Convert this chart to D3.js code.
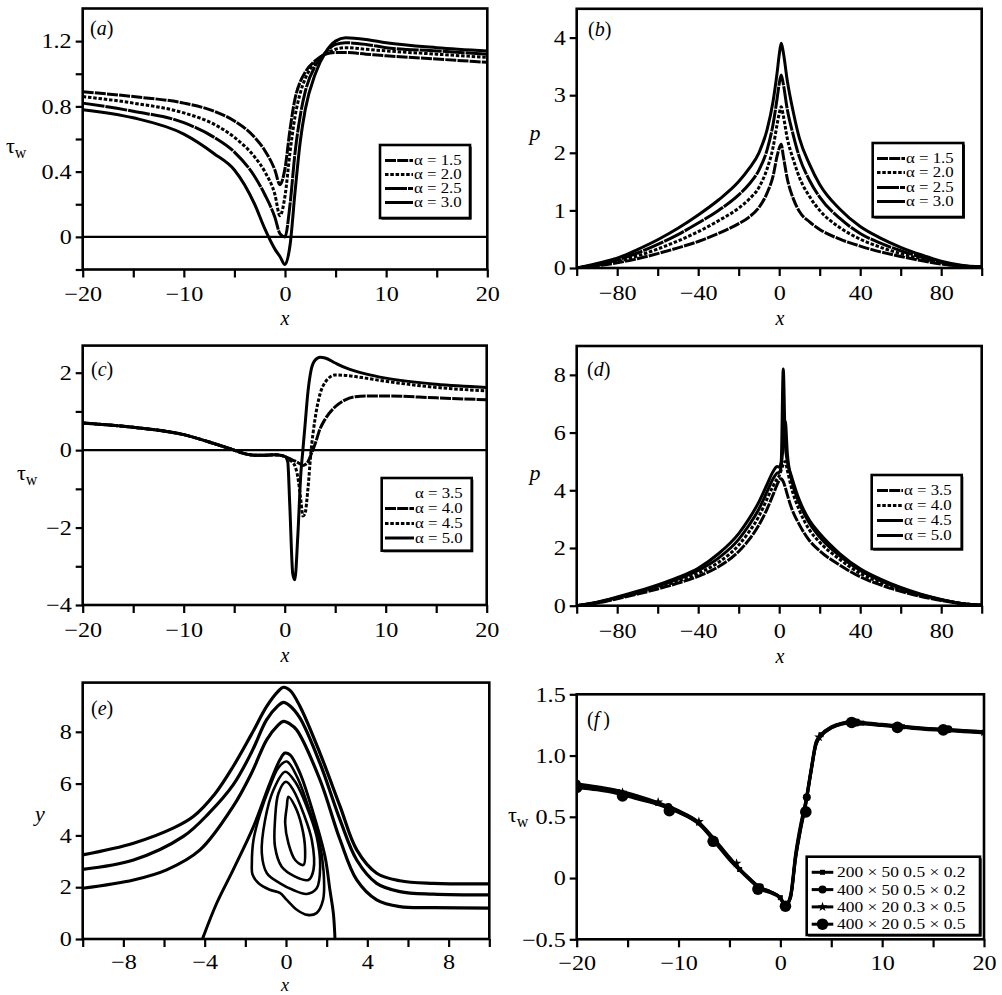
<!DOCTYPE html>
<html><head><meta charset="utf-8">
<script src="https://cdn.jsdelivr.net/npm/d3@7"></script>
<style>
body{margin:0;background:#fff}
text{font-family:"Liberation Serif","Times New Roman",serif;fill:#000}
</style>
</head><body><svg id="c" width="1002" height="995"></svg>
<script>
// ---------- DATA ----------
// (a) wall shear stress, alpha = 1.5..3.0
const aX = [-20,-15,-10,-7,-5,-3,-2,-1,-0.5,0,0.5,1,1.5,2,3,4,5,6,8,10,15,20];
const aTau15 = [0.89,0.86,0.82,0.77,0.71,0.61,0.53,0.41,0.32,0.42,0.66,0.85,0.95,1.01,1.08,1.12,1.13,1.13,1.12,1.11,1.09,1.07];
const aTau20 = [0.86,0.82,0.76,0.69,0.61,0.49,0.40,0.26,0.13,0.25,0.52,0.74,0.88,0.97,1.07,1.12,1.15,1.16,1.15,1.14,1.12,1.10];
const aTau25 = [0.82,0.77,0.70,0.61,0.52,0.37,0.26,0.12,0.02,0.0,0.2,0.52,0.74,0.89,1.05,1.13,1.18,1.19,1.18,1.16,1.14,1.12];
const aTau30 = [0.78,0.73,0.63,0.51,0.41,0.2,0.05,-0.075,-0.12,-0.17,-0.05,0.28,0.58,0.78,1.0,1.13,1.20,1.22,1.21,1.19,1.16,1.14];
const aLabels = ["\u03b1 = 1.5","\u03b1 = 2.0","\u03b1 = 2.5","\u03b1 = 3.0"];

// (b) pressure, alpha = 1.5..3.0
const bX = [-100,-90,-80,-70,-60,-50,-40,-30,-20,-15,-10,-6,-3,-1,0,1,2,4,7,10,15,20,30,40,50,60,70,80,90,100];
const bP15 = [0,0.04,0.09,0.16,0.25,0.35,0.46,0.6,0.77,0.88,1.05,1.3,1.6,1.95,2.08,2.15,1.95,1.55,1.2,0.98,0.8,0.67,0.5,0.38,0.28,0.2,0.13,0.07,0.03,0.02];
const bP20 = [0,0.05,0.11,0.21,0.33,0.47,0.63,0.82,1.04,1.19,1.4,1.72,2.1,2.5,2.68,2.8,2.65,2.25,1.88,1.57,1.24,1.0,0.7,0.5,0.36,0.25,0.16,0.08,0.03,0.02];
const bP25 = [0,0.06,0.14,0.26,0.41,0.58,0.78,1.0,1.27,1.45,1.7,2.05,2.5,2.95,3.2,3.35,3.2,2.75,2.3,1.92,1.52,1.23,0.86,0.6,0.43,0.3,0.19,0.1,0.04,0.02];
const bP30 = [0,0.08,0.17,0.32,0.49,0.69,0.92,1.18,1.50,1.72,2.0,2.4,2.9,3.4,3.7,3.9,3.75,3.25,2.7,2.25,1.8,1.45,1.02,0.72,0.52,0.36,0.23,0.12,0.05,0.02];

// (c) wall shear stress, alpha = 3.5..5.0
const cX = [-20,-15,-10,-7,-5,-4,-3,-2,-1,0,0.3,0.5,0.8,1.0,1.3,1.6,1.8,2.0,2.3,2.6,3.0,3.5,4,5,6,7,8,10,15,20];
const cTau40 = [0.70,0.59,0.40,0.17,0.0,-0.09,-0.13,-0.13,-0.12,-0.16,-0.2,-0.22,-0.26,-0.28,-0.32,-0.37,-0.4,-0.38,-0.3,-0.12,0.15,0.55,0.8,1.12,1.3,1.38,1.4,1.4,1.35,1.3];
const cTau45 = [0.70,0.59,0.40,0.17,0.0,-0.09,-0.13,-0.13,-0.12,-0.16,-0.2,-0.25,-0.32,-0.4,-0.7,-1.3,-1.7,-1.65,-1.0,-0.05,0.8,1.45,1.75,1.94,1.93,1.9,1.86,1.78,1.62,1.53];
const cTau50 = [0.70,0.59,0.40,0.17,0.0,-0.09,-0.13,-0.13,-0.12,-0.16,-0.3,-1.4,-3.2,-3.35,-2.2,-0.6,0.0,0.6,1.5,2.05,2.32,2.4,2.38,2.25,2.13,2.04,1.97,1.86,1.7,1.62];
const cdLabels = ["\u03b1 = 3.5","\u03b1 = 4.0","\u03b1 = 4.5","\u03b1 = 5.0"];

// (d) pressure, alpha = 3.5..5.0
const dX = [-100,-90,-80,-70,-60,-50,-40,-30,-20,-15,-10,-6,-3,-1,0,1,2,3,4,6,10,15,20,30,40,50,60,70,80,90,100];
const dP35 = [0,0.09,0.24,0.4,0.58,0.78,1.02,1.35,1.88,2.28,2.8,3.35,3.85,4.2,4.35,4.4,4.3,4.1,3.85,3.4,2.8,2.25,1.9,1.4,1.0,0.72,0.5,0.32,0.18,0.07,0.02];
const dP40 = [0,0.1,0.26,0.44,0.63,0.85,1.12,1.5,2.1,2.55,3.1,3.7,4.15,4.4,4.5,4.7,4.9,5.0,4.7,4.1,3.3,2.62,2.2,1.6,1.12,0.8,0.55,0.35,0.2,0.08,0.02];
const dP45 = [0,0.11,0.28,0.47,0.68,0.92,1.22,1.65,2.3,2.78,3.35,3.95,4.4,4.6,4.62,4.85,5.6,6.4,5.3,4.4,3.55,2.85,2.38,1.72,1.22,0.87,0.6,0.38,0.21,0.08,0.02];
const dP50 = [0,0.12,0.3,0.5,0.72,0.98,1.3,1.8,2.5,3.0,3.6,4.2,4.65,4.82,4.8,5.0,8.2,5.6,5.0,4.5,3.65,2.95,2.5,1.8,1.28,0.92,0.63,0.4,0.22,0.08,0.02];

// (e) streamlines [x, y]
const eStream1 = [[-10,3.25],[-7.5,3.7],[-5.5,4.3],[-4.56,4.73],[-3.5,5.6],[-2.6,6.66],[-1.7,7.9],[-0.95,8.98],[-0.4,9.55],[-0.13,9.72],[0.2,9.6],[0.69,8.98],[1.67,7.18],[2.66,5.12],[3.48,3.44],[4.46,2.54],[5.6,2.25],[7.25,2.15],[10,2.13]];
const eStream2 = [[-10,2.69],[-7.5,3.05],[-5.05,3.96],[-3.8,4.85],[-2.6,5.95],[-1.7,7.2],[-0.95,8.47],[-0.4,9.0],[-0.13,9.14],[0.2,9.0],[0.69,8.53],[1.67,6.79],[2.66,4.6],[3.48,3.05],[4.46,2.15],[5.6,1.83],[7.25,1.73],[10,1.7]];
const eStream3 = [[-10,1.96],[-7.5,2.28],[-5.87,2.67],[-4.23,3.44],[-2.6,5.12],[-1.7,6.4],[-0.95,7.69],[-0.4,8.25],[-0.13,8.4],[0.2,8.3],[0.52,8.08],[1.67,6.15],[2.66,3.83],[3.48,2.28],[4.46,1.51],[5.6,1.25],[7.25,1.21],[10,1.19]];
const eSeparatrix = [[-4.11,0],[-3.41,1.38],[-2.6,2.67],[-1.6,4.34],[-0.79,6.02],[-0.3,6.92],[-0.05,7.18],[0.2,7.11],[0.69,6.4],[1.34,4.86],[1.92,3.18],[2.16,1.89],[2.33,0.99],[2.41,0]];
const eLoopA = [[0.04,6.85],[0.55,6.25],[1.1,5.1],[1.6,3.9],[1.85,2.6],[1.82,1.5],[1.5,1.0],[1.05,0.93],[0.55,1.12],[0.05,1.5],[-0.3,1.78],[-0.8,1.9],[-1.35,2.15],[-1.65,2.5],[-1.68,2.9],[-1.6,3.82],[-1.27,4.85],[-0.8,5.88],[-0.37,6.62]];
const eLoopB = [[-0.04,6.46],[0.45,6.07],[1.02,5.11],[1.51,3.95],[1.68,2.79],[1.51,1.96],[1.02,1.74],[0.36,1.89],[-0.29,2.15],[-0.94,2.54],[-1.19,3.31],[-1.03,4.59],[-0.62,5.75]];
const eLoopC = [[0.0,6.07],[0.36,5.75],[0.86,4.85],[1.27,3.82],[1.35,2.66],[1.1,2.28],[0.45,2.41],[-0.21,2.79],[-0.54,3.56],[-0.54,4.59],[-0.37,5.63]];
const eLoopD = [[0.12,5.49],[0.45,5.11],[0.78,4.34],[0.94,3.44],[0.86,2.86],[0.45,3.05],[0.12,3.69],[-0.04,4.47],[0.04,5.11]];

// (f) grid study
const fX = [-20,-18,-16,-14,-12,-10,-8,-6,-5,-4,-3,-2,-1,0,0.5,1,1.5,2,2.5,3,3.5,4,5,6,7,8,10,12,14,16,18,20];
const fTau1 = [0.76,0.735,0.705,0.66,0.61,0.545,0.45,0.26,0.16,0.07,-0.01,-0.08,-0.11,-0.16,-0.22,-0.15,0.18,0.42,0.62,0.87,1.10,1.17,1.23,1.26,1.27,1.265,1.25,1.235,1.22,1.21,1.20,1.19];
const fTau2 = [0.77,0.745,0.715,0.67,0.615,0.55,0.455,0.27,0.17,0.075,-0.005,-0.075,-0.11,-0.165,-0.225,-0.14,0.2,0.44,0.63,0.88,1.11,1.17,1.235,1.265,1.275,1.27,1.255,1.24,1.225,1.215,1.205,1.195];
const fTau3 = [0.755,0.73,0.70,0.655,0.605,0.54,0.445,0.255,0.155,0.07,-0.01,-0.085,-0.115,-0.16,-0.22,-0.16,0.17,0.41,0.61,0.86,1.09,1.16,1.225,1.255,1.265,1.26,1.245,1.23,1.215,1.205,1.195,1.185];
const fTau4 = [0.74,0.72,0.69,0.645,0.60,0.535,0.44,0.25,0.15,0.065,-0.015,-0.09,-0.12,-0.165,-0.23,-0.16,0.16,0.40,0.60,0.86,1.09,1.16,1.225,1.26,1.27,1.265,1.25,1.235,1.22,1.21,1.20,1.19];
const fMark1 = [[-20,0.76],[-16,0.705],[-12,0.61],[-8,0.45],[-4,0.07],[0,-0.16],[4,1.17],[8,1.265],[12,1.235],[16,1.21],[20,1.19]];
const fMark2 = [[-20,0.77],[-11,0.58],[-2,-0.075],[2.6,0.66],[7.5,1.27],[16.5,1.215]];
const fMark3 = [[-15.5,0.7],[-12,0.62],[-8,0.46],[-4.3,0.12],[3.8,1.15],[20,1.19]];
const fMark4 = [[-20,0.74],[-15.5,0.67],[-10.9,0.55],[-6.6,0.30],[-2.2,-0.09],[0.5,-0.23],[2.5,0.54],[7,1.27],[11.5,1.23],[16,1.21]];
const fLabels = ["200 \u00d7 50 0.5 \u00d7 0.2","400 \u00d7 50 0.5 \u00d7 0.2","400 \u00d7 20 0.3 \u00d7 0.5","400 \u00d7 20 0.5 \u00d7 0.5"];

// ---------- DRAWING ----------
const svg = d3.select("#c");
const defs = svg.append("defs");
const STYLES = {
  ldash:{dash:"11,1.2",w:3}, dot:{dash:"3.5,1.8",w:3}, mdash:{dash:"22,1",w:3}, solid:{dash:null,w:3}, none:{dash:null,w:0}
};
const fmtInt = d3.format("d");
const fmt1 = d => d === 0 ? "0" : d3.format(".1f")(d);
const TICKFS = 21, TICKK = 1.15;

function panel(o){
  const x = d3.scaleLinear().domain(o.xd).range([o.l,o.r]);
  const y = d3.scaleLinear().domain(o.yd).range([o.b,o.t]);
  const g = svg.append("g");
  const clip = "clip-"+o.id;
  defs.append("clipPath").attr("id",clip).append("rect")
    .attr("x",o.l).attr("y",o.t).attr("width",o.r-o.l).attr("height",o.b-o.t);
  const cg = g.append("g").attr("clip-path",`url(#${clip})`);
  const gx = g.append("g").attr("transform",`translate(0,${o.b})`)
    .call(d3.axisBottom(x).tickValues(o.xt).tickSize(8).tickPadding(o.xpad || 9).tickSizeOuter(0)
      .tickFormat(d => o.xl.includes(d) ? o.xf(d) : ""));
  const gy = g.append("g").attr("transform",`translate(${o.l},0)`)
    .call(d3.axisLeft(y).tickValues(o.yt).tickSize(7).tickPadding(4).tickSizeOuter(0)
      .tickFormat(d => o.yl.includes(d) ? o.yf(d) : ""));
  [gx,gy].forEach(a => {
    a.select(".domain").remove();
    a.attr("font-size",TICKFS).attr("font-family",null);
    a.selectAll(".tick line").attr("stroke","#000").attr("stroke-width",2.2);
    a.selectAll(".tick text").attr("class","st").attr("data-k",TICKK);
  });
  g.append("rect").attr("x",o.l).attr("y",o.t).attr("width",o.r-o.l).attr("height",o.b-o.t)
    .attr("fill","none").attr("stroke","#000").attr("stroke-width",2.6);
  if (o.zero) {
    cg.append("line").attr("x1",o.l).attr("x2",o.r).attr("y1",y(0)).attr("y2",y(0))
      .attr("stroke","#000").attr("stroke-width",2.2);
  }
  return {x,y,g,cg};
}

function series(p, xs, ys, st){
  const s = STYLES[st];
  const line = d3.line().x((d,i)=>p.x(xs[i])).y(d=>p.y(d)).curve(d3.curveMonotoneX);
  p.cg.append("path").datum(ys).attr("d",line).attr("fill","none").attr("stroke","#000")
    .attr("stroke-width",s.w).attr("stroke-dasharray",s.dash).attr("stroke-linejoin","round");
}

function stream(p, pts, closed, w){
  const line = d3.line().x(d=>p.x(d[0])).y(d=>p.y(d[1]))
    .curve(closed ? d3.curveCatmullRomClosed.alpha(0.5) : d3.curveCatmullRom.alpha(0.5));
  p.cg.append("path").datum(pts).attr("d",line).attr("fill","none").attr("stroke","#000")
    .attr("stroke-width",w).attr("stroke-linejoin","round");
}

function legend(box, sx1, sx2, tx, rows, fs, k, labels, styles, markers){
  const [x0,y0,x1,y1] = box;
  svg.append("rect").attr("x",x0+1.6).attr("y",y0+1.6).attr("width",x1-x0).attr("height",y1-y0)
    .attr("fill","#000");
  svg.append("rect").attr("x",x0).attr("y",y0).attr("width",x1-x0).attr("height",y1-y0)
    .attr("fill","#fff").attr("stroke","#000").attr("stroke-width",2.6);
  labels.forEach((lab,i)=>{
    const s = STYLES[styles[i]];
    if (s.w > 0) {
      svg.append("line").attr("x1",sx1).attr("x2",sx2).attr("y1",rows[i]).attr("y2",rows[i])
        .attr("stroke","#000").attr("stroke-width",s.w).attr("stroke-dasharray",s.dash);
    }
    if (markers) markers[i]((sx1+sx2)/2, rows[i], svg);
    svg.append("text").attr("class","st").attr("data-k",k).attr("x",tx).attr("y",rows[i])
      .attr("dy","0.33em").attr("font-size",fs).text(lab);
  });
}

function panelLabel(x, y, letter, extra){
  const t = svg.append("text").attr("x",x).attr("y",y).attr("font-size",20);
  t.append("tspan").text("(");
  t.append("tspan").attr("font-style","italic").text(letter);
  t.append("tspan").text(extra ? "\u2009)" : ")");
}
function tauLabel(x, y){
  const t = svg.append("text").attr("x",x).attr("y",y).attr("font-size",22);
  t.append("tspan").text("\u03c4");
  t.append("tspan").attr("dy",5).attr("font-size",16).text("w");
}
function italicLabel(x, y, s, fs){
  svg.append("text").attr("x",x).attr("y",y).attr("font-size",fs || 22).attr("font-style","italic")
    .attr("text-anchor","middle").text(s);
}

// ---- (a)
const pa = panel({id:"a", l:82.7, r:487.3, t:8.5, b:269.5, xd:[-20,20], yd:[-0.2,1.4],
  xt:d3.range(-20,21,5), xl:[-20,-10,0,10,20], xf:fmtInt,
  yt:[-0.2,0,0.2,0.4,0.6,0.8,1.0,1.2], yl:[0,0.4,0.8,1.2], yf:fmt1, zero:true});
series(pa, aX, aTau15, "ldash");
series(pa, aX, aTau20, "dot");
series(pa, aX, aTau25, "mdash");
series(pa, aX, aTau30, "solid");
legend([380,145,470,218], 385, 413, 414, [160.5,174.5,188.5,202.5], 14, 1.2, aLabels, ["ldash","dot","mdash","solid"]);
panelLabel(90, 35, "a");
tauLabel(6, 153);
italicLabel(285, 325, "x", 20);

// ---- (b)
const pb = panel({id:"b", l:576.7, r:981.7, t:8.8, b:268, xd:[-100,100], yd:[0,4.5],
  xt:d3.range(-100,101,20), xl:[-80,-40,0,40,80], xf:fmtInt,
  yt:[0,1,2,3,4], yl:[0,1,2,3,4], yf:fmtInt});
series(pb, bX, bP15, "ldash");
series(pb, bX, bP20, "dot");
series(pb, bX, bP25, "mdash");
series(pb, bX, bP30, "solid");
legend([872.7,143,963.3,217], 877, 905, 906, [158.5,172.5,187.5,201.5], 14, 1.2, aLabels, ["ldash","dot","mdash","solid"]);
panelLabel(588, 36, "b");
italicLabel(535, 140, "p");
italicLabel(780, 325, "x", 20);

// ---- (c)
const pc = panel({id:"c", l:82.7, r:486.7, t:345.6, b:605, xd:[-20,20], yd:[-4,2.7],
  xt:d3.range(-20,21,5), xl:[-20,-10,0,10,20], xf:fmtInt,
  yt:[-4,-3,-2,-1,0,1,2], yl:[-4,-2,0,2], yf:fmtInt, zero:true});
series(pc, cX, cTau40, "ldash");
series(pc, cX, cTau45, "dot");
series(pc, cX, cTau50, "solid");
legend([381.7,478,471.7,550.7], 385, 414, 415, [493,508.5,523.5,538], 14, 1.2, cdLabels, ["none","ldash","dot","solid"]);
panelLabel(91, 376, "c");
tauLabel(17, 480);
italicLabel(285, 662, "x", 20);

// ---- (d)
const pd = panel({id:"d", l:576.7, r:981.7, t:346, b:605.7, xd:[-100,100], yd:[0,9],
  xt:d3.range(-100,101,20), xl:[-80,-40,0,40,80], xf:fmtInt,
  yt:[0,2,4,6,8], yl:[0,2,4,6,8], yf:fmtInt});
series(pd, dX, dP35, "ldash");
series(pd, dX, dP40, "dot");
series(pd, dX, dP45, "solid");
series(pd, dX, dP50, "solid");
legend([871.7,475,961.7,549], 877, 903, 904, [490.5,505.5,520.5,535.5], 14, 1.2, cdLabels, ["ldash","dot","solid","solid"]);
panelLabel(587, 376, "d");
italicLabel(535, 480, "p");
italicLabel(780, 663, "x", 20);

// ---- (e)
const pe = panel({id:"e", l:82.7, r:489.3, t:682.6, b:939, xd:[-10,10], yd:[0,9.9],
  xt:d3.range(-10,11,2), xl:[-8,-4,0,4,8], xf:fmtInt, xpad:7,
  yt:[0,2,4,6,8], yl:[0,2,4,6,8], yf:fmtInt});
stream(pe, eStream1, false, 3.2);
stream(pe, eStream2, false, 3.2);
stream(pe, eStream3, false, 3.2);
stream(pe, eSeparatrix, false, 3);
stream(pe, eLoopA, true, 2.6);
stream(pe, eLoopB, true, 2.6);
stream(pe, eLoopC, true, 2.6);
stream(pe, eLoopD, true, 2.6);
panelLabel(91, 715, "e");
italicLabel(40, 821, "y");
italicLabel(285, 990.5, "x", 18);

// ---- (f)
const pf = panel({id:"f", l:576.7, r:984, t:694.3, b:939.3, xd:[-20,20], yd:[-0.5,1.5],
  xt:d3.range(-20,21,5), xl:[-20,-10,0,10,20], xf:fmtInt, xpad:8,
  yt:[-0.5,0,0.5,1.0,1.5], yl:[-0.5,0,0.5,1.0,1.5], yf:fmt1});
series(pf, fX, fTau1, "solid");
series(pf, fX, fTau2, "solid");
series(pf, fX, fTau3, "solid");
series(pf, fX, fTau4, "solid");
const mk = [
  (x,y,g) => g.append("rect").attr("x",x-2.5).attr("y",y-2.5).attr("width",5).attr("height",5).attr("fill","#000"),
  (x,y,g) => g.append("circle").attr("cx",x).attr("cy",y).attr("r",4).attr("fill","#000"),
  (x,y,g) => g.append("path").attr("transform",`translate(${x},${y})`).attr("d",d3.symbol(d3.symbolStar,30)()).attr("fill","#000"),
  (x,y,g) => g.append("circle").attr("cx",x).attr("cy",y).attr("r",5.8).attr("fill","#000")
];
[fMark1,fMark2,fMark3,fMark4].forEach((arr,k) => {
  arr.forEach(d => mk[k](pf.x(d[0]), pf.y(d[1]), pf.cg));
});
legend([806.7,856.7,980,935], 811.7, 833.3, 837, [872.3,889.6,906.9,924.2], 15, 1.16, fLabels, ["solid","solid","solid","solid"], mk);
panelLabel(587, 726, "f", true);
tauLabel(508, 822);

// stretch serif text horizontally to match reference proportions
svg.selectAll("text.st").each(function(){
  const k = +this.getAttribute("data-k");
  const w = this.getComputedTextLength();
  if (w > 0) { this.setAttribute("textLength", w*k); this.setAttribute("lengthAdjust","spacingAndGlyphs"); }
});
</script></body></html>
